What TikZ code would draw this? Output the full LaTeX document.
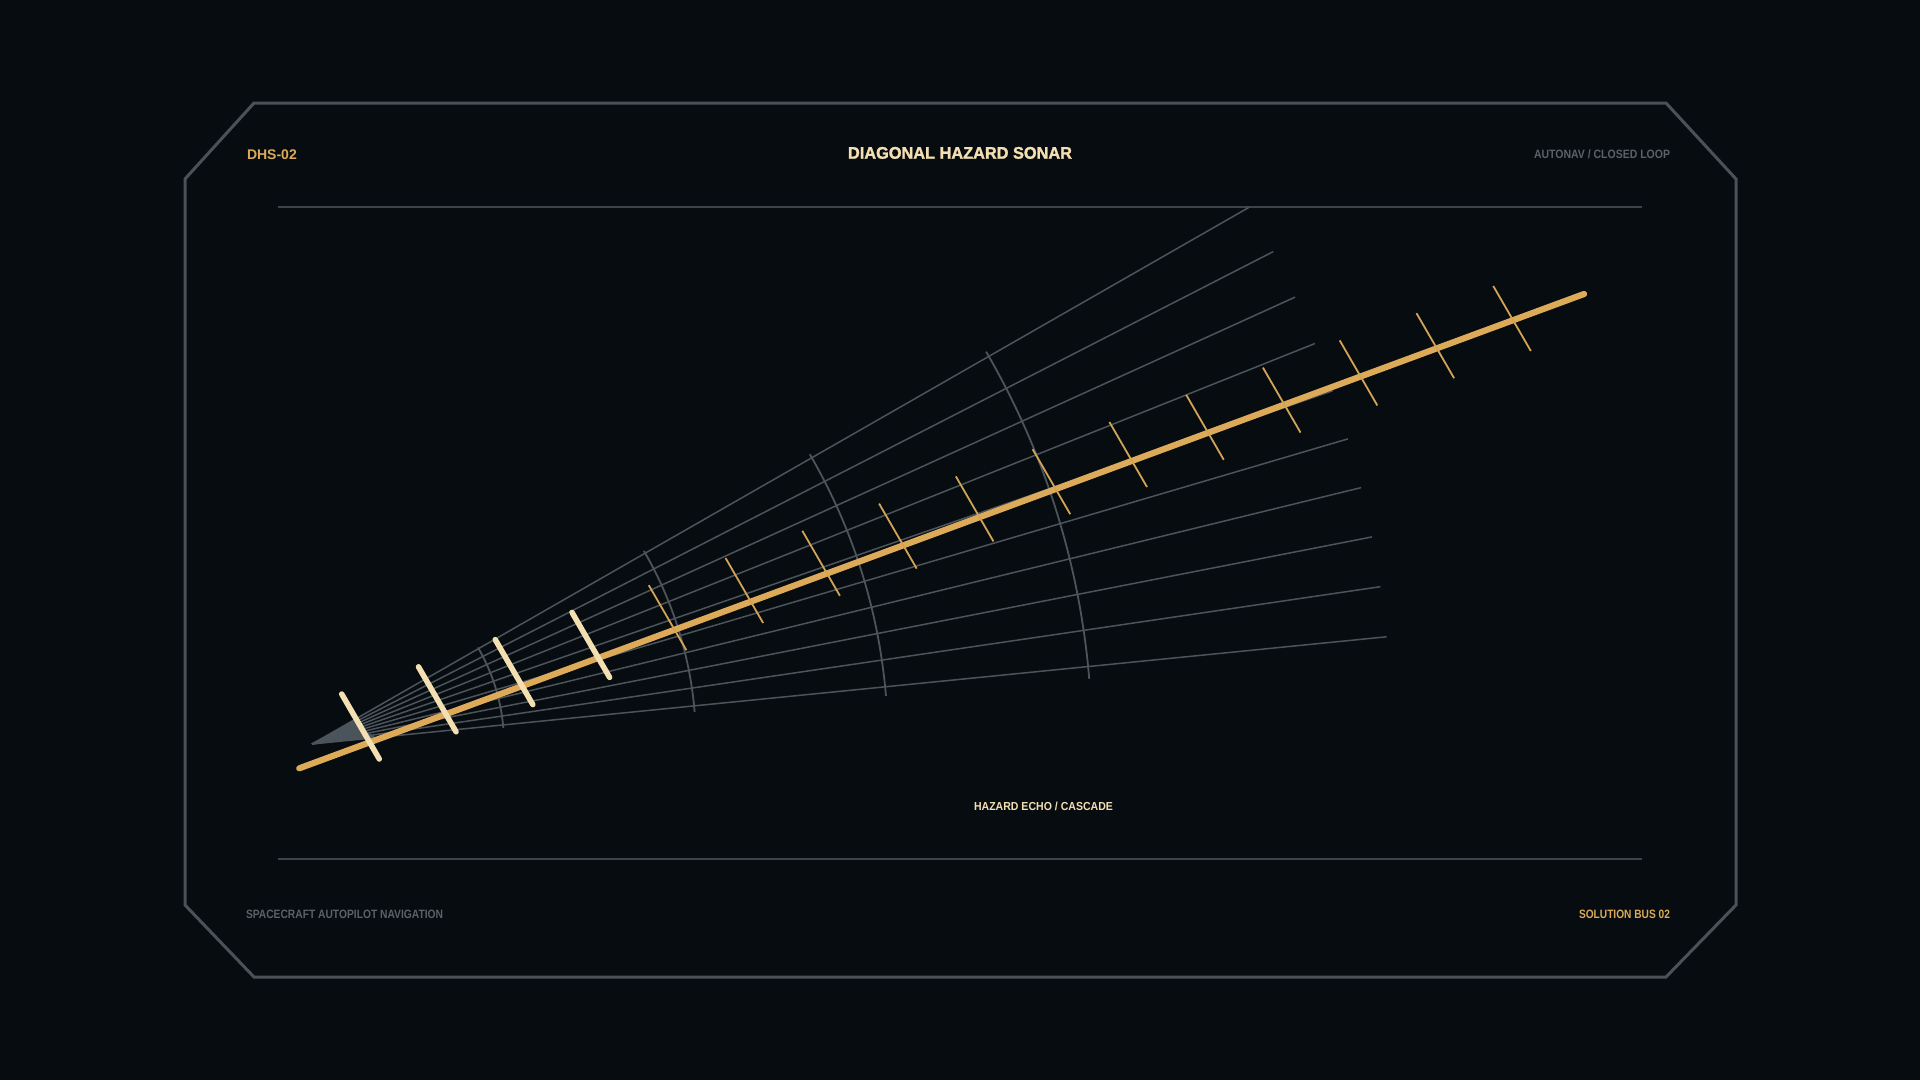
\documentclass[tikz,border=0pt]{standalone}
\usepackage{fontspec}
\setmainfont{Liberation Sans}
\newfontfamily\heavyfont{Liberation Sans}[UprightFeatures={FakeBold=1.6}, BoldFeatures={FakeBold=1.6}]
\usepackage{graphicx}
\definecolor{bg}{HTML}{070C10}
\definecolor{framec}{HTML}{4A5258}
\definecolor{rulec}{HTML}{3C444A}
\definecolor{rayc}{HTML}{4B545A}
\definecolor{gold}{HTML}{DCAA58}
\definecolor{thingold}{HTML}{D2A456}
\definecolor{cream}{HTML}{F4DFB2}
\definecolor{mutec}{HTML}{5A6268}
\newcommand{\fitw}[2]{\resizebox{#1}{\height}{#2}}
\tikzset{
  framestyle/.style={draw=framec, line width=3pt, line join=miter},
  rulestyle/.style={draw=rulec, line width=1.6pt},
  raystyle/.style={draw=rayc, line width=1.5pt},
  arcstyle/.style={draw=rayc, line width=1.8pt},
  goldline/.style={draw=gold, line width=6.2pt, line cap=round},
  thicktick/.style={draw=cream, line width=5.5pt, line cap=round},
  thintick/.style={draw=thingold, line width=1.8pt},
  txt/.style={inner sep=0pt, outer sep=0pt},
}
\begin{document}
\begin{tikzpicture}[x=1pt,y=-1pt]
\fill[bg] (0,0) rectangle (1920,1080);
\useasboundingbox (0,0) rectangle (1920,1080);

% frame
\draw[framestyle] (254,103) -- (1666,103) -- (1736,179) -- (1736,905) -- (1666,977) -- (254,977) -- (185,905) -- (185,179) -- cycle;

% rules
\coordinate (rtl) at (278,207);
\coordinate (rtr) at (1642,207);
\coordinate (rbl) at (278,859);
\coordinate (rbr) at (1642,859);
\draw[rulestyle] (rtl) -- (rtr);
\draw[rulestyle] (rbl) -- (rbr);

% texts
\node[txt, anchor=base west, text=gold] (code) at (247,159) {\fontsize{14}{16}\selectfont\bfseries DHS-02};
\node[txt, anchor=base, text=cream] (title) at (960,158.7) {\fitw{224pt}{\fontsize{16.8}{19}\selectfont\heavyfont\bfseries DIAGONAL HAZARD SONAR}};
\node[txt, anchor=base east, text=mutec] (mode) at (1670,158.7) {\fitw{136pt}{\fontsize{12.1}{14}\selectfont\bfseries AUTONAV / CLOSED LOOP}};
\node[txt, anchor=base west, text=mutec] (foot) at (246,918.7) {\fitw{197pt}{\fontsize{12.1}{14}\selectfont\bfseries SPACECRAFT AUTOPILOT NAVIGATION}};
\node[txt, anchor=base east, text=gold] (bus) at (1670,918.7) {\fitw{91pt}{\fontsize{12.1}{14}\selectfont\bfseries SOLUTION BUS 02}};
\node[txt, anchor=base, text=cream] (echo) at (1043.5,810) {\fitw{139pt}{\fontsize{11.6}{14}\selectfont\bfseries HAZARD ECHO / CASCADE}};

% sonar fan
\coordinate (O) at (312,744);
\foreach \i in {0,...,9}{
  \pgfmathsetmacro\a{5.7+2.678*\i}
  \pgfmathsetmacro\ex{312+1080*cos(\a)}
  \pgfmathsetmacro\ey{744-1080*sin(\a)}
  \coordinate (ray\i) at (\ex,\ey);
  \draw[raystyle] (O) -- (ray\i);
}
\foreach \r in {192,384,576,780}{
  \draw[arcstyle] plot[domain=4.8:30.2, samples=40, smooth] ({312+\r*cos(\x)},{744-\r*sin(\x)});
}
% emitter wedge
\pgfmathsetmacro\wax{312+47*cos(29.8)}
\pgfmathsetmacro\way{744-47*sin(29.8)}
\pgfmathsetmacro\wbx{312+64*cos(5.7)}
\pgfmathsetmacro\wby{744-64*sin(5.7)}
\coordinate (wa) at (\wax,\way);
\coordinate (wb) at (\wbx,\wby);
\fill[rayc] (O) -- (wa) -- (wb) -- cycle;

% gold solution line
\coordinate (gs) at (299.3,768.3);
\coordinate (ge) at (1584,294);
\draw[goldline] (gs) -- (ge);

% ticks
\foreach \k in {0,...,15}{
  \pgfmathsetmacro\cx{360.5+76.77*\k}
  \pgfmathsetmacro\cy{726.5-27.2*\k}
  \coordinate (ta\k) at (\cx-18.8,\cy-32.5);
  \coordinate (tb\k) at (\cx+18.8,\cy+32.5);
  \ifnum\k<4
    \draw[thicktick] (ta\k) -- (tb\k);
  \else
    \draw[thintick] (ta\k) -- (tb\k);
  \fi
}
\end{tikzpicture}
\end{document}
